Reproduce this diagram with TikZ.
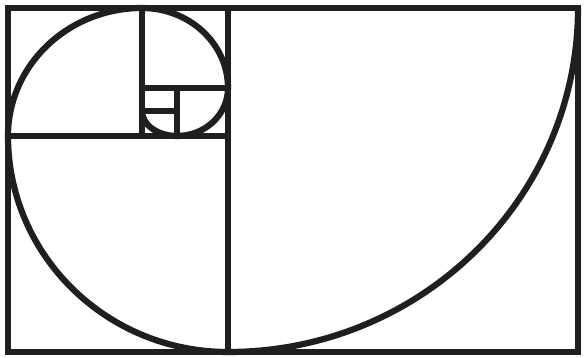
\documentclass[tikz,border=0pt]{standalone}
\begin{document}
\begin{tikzpicture}[x=1pt,y=1pt,
  frame/.style={line width=6.2pt,draw=black!88,line cap=rect},
  spiral/.style={line width=6.2pt,draw=black!88,line cap=round}]
\useasboundingbox (0,0) rectangle (584,358);
\fill[white] (0,0) rectangle (584,358);
% squares
\draw[frame] (8,6) rectangle (578,350);
\draw[frame] (228,6) -- (228,350);
\draw[frame] (8,222) -- (228,222);
\draw[frame] (142,222) -- (142,350);
\draw[frame] (142,270) -- (228,270);
\draw[frame] (177,222) -- (177,270);
\draw[frame] (142,247) -- (177,247);
% spiral
\draw[spiral] (142,247)
  arc[start angle=180,end angle=270,x radius=35,y radius=25]
  arc[start angle=-90,end angle=0,x radius=51,y radius=48]
  arc[start angle=0,end angle=90,x radius=86,y radius=80]
  arc[start angle=90,end angle=180,x radius=134,y radius=128]
  arc[start angle=180,end angle=270,x radius=220,y radius=216]
  arc[start angle=270,end angle=360,x radius=350,y radius=344];
\end{tikzpicture}
\end{document}
